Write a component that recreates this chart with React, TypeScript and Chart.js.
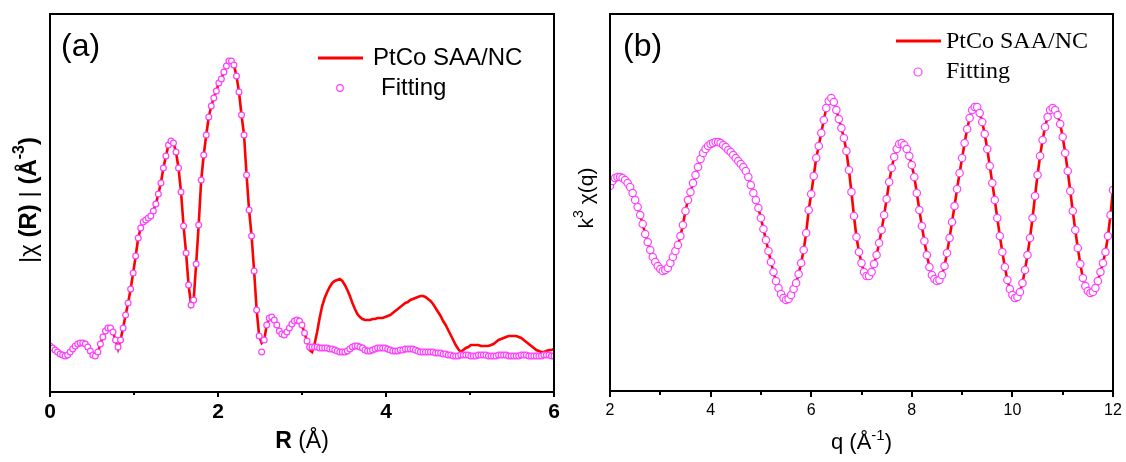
import React, { useEffect, useRef } from 'react';
import { Chart, registerables } from 'chart.js';

Chart.register(...registerables);

// ---------- Panel (a): |chi(R)|, R grid 0..6 step 0.03 ----------
const R_START = 0;
const R_STEP = 0.03;
const rMeasured = [
  46, 44, 42, 40, 38, 37, 36, 37, 40, 43,
  46, 48, 49, 49, 48, 45, 41, 37, 36, 40,
  48, 55, 61, 64, 64, 60, 52, 43, 52, 64,
  77, 89, 103, 119, 136, 154, 164, 170, 172, 174,
  176, 181, 188, 198, 209, 224, 236, 247, 251, 249,
  240, 224, 200, 166, 139, 107, 87, 92, 128, 167,
  212, 237, 257, 275, 286, 294, 301, 309, 313, 320,
  326, 331, 331, 327, 316, 300, 277, 257, 217, 182,
  156, 121, 82, 56, 49, 52, 67, 74, 75, 72,
  67, 61, 58, 57, 60, 64, 68, 71, 72, 71,
  67, 59, 51, 42, 40, 48, 60, 74, 86, 94,
  100, 105, 109, 111, 112, 113, 111, 107, 102, 96,
  89, 83, 78, 75, 73, 72, 72, 72, 73, 73,
  74, 74, 74, 75, 76, 77, 79, 81, 83, 85,
  87, 89, 90, 92, 93, 94, 95, 96, 96, 95,
  93, 91, 88, 84, 80, 76, 71, 67, 62, 57,
  52, 47, 43, 40, 42, 44, 45, 47, 47, 47,
  47, 46, 46, 46, 46, 47, 48, 50, 52, 53,
  54, 55, 56, 56, 56, 56, 55, 54, 52, 50,
  48, 46, 44, 42, 41, 40, 40, 41, 42, 42,
  43,
];
const rFitting = [
  46, 44, 42, 40, 38, 37, 36, 37, 40, 43,
  46, 48, 49, 49, 48, 45, 41, 37, 36, 40,
  48, 55, 61, 64, 64, 60, 52, 45, 52, 64,
  77, 89, 103, 119, 136, 154, 164, 170, 172, 174,
  176, 181, 188, 198, 209, 224, 236, 247, 251, 249,
  240, 224, 200, 166, 139, 107, 87, 92, 128, 167,
  212, 237, 257, 275, 286, 294, 301, 309, 313, 320,
  326, 331, 331, 327, 316, 300, 277, 257, 217, 182,
  156, 121, 82, 56, 40, 52, 67, 74, 75, 72,
  67, 61, 58, 57, 60, 64, 68, 71, 72, 71,
  67, 59, 51, 45, 45, 45, 45, 44, 44, 44,
  44, 43, 43, 42, 41, 40, 40, 40, 41, 43,
  45, 46, 46, 45, 44, 42, 41, 41, 42, 43,
  44, 44, 44, 44, 43, 42, 41, 41, 41, 42,
  42, 43, 43, 43, 43, 42, 41, 40, 40, 40,
  40, 40, 40, 39, 39, 39, 38, 38, 37, 37,
  36, 36, 36, 37, 37, 37, 37, 36, 36, 36,
  37, 37, 37, 37, 36, 36, 36, 36, 37, 37,
  37, 37, 36, 36, 36, 36, 36, 37, 37, 37,
  36, 36, 36, 36, 36, 36, 37, 37, 37, 36,
  36,
];
const rTickLabels = [0, 2, 4, 6];
const rMinorTicks = [1, 3, 5];

// ---------- Panel (b): k^3 chi(q), q grid 2..12 step 0.05 ----------
const Q_START = 2;
const Q_STEP = 0.05;
const qMeasured = [
  14, 19, 22, 23, 23, 22, 20, 17, 13, 7, 0, -7, -15, -24, -34, -42, -50, -57, -62, -66,
  -69, -71, -70, -68, -63, -57, -51, -45, -36, -25, -11, 0, 8, 17, 25, 33, 41, 47, 51, 54,
  56, 57, 58, 58, 57, 55, 53, 50, 48, 45, 42, 39, 36, 33, 29, 23, 15, 7, 0, -8,
  -18, -29, -40, -51, -62, -72, -81, -88, -94, -98, -100, -99, -95, -89, -83, -74, -63, -50, -33, -10,
  6, 24, 42, 54, 67, 80, 92, 99, 102, 98, 90, 81, 72, 62, 49, 30, 8, -16, -37, -52,
  -63, -72, -76, -76, -72, -64, -55, -43, -30, -15, 1, 18, 32, 43, 51, 56, 57, 55, 51, 44,
  35, 23, 7, -10, -26, -41, -55, -67, -75, -79, -81, -80, -75, -66, -53, -38, -22, -6, 11, 27,
  42, 57, 71, 82, 90, 93, 93, 87, 78, 66, 51, 34, 17, 0, -18, -36, -52, -67, -80, -89,
  -95, -98, -97, -92, -83, -70, -55, -38, -18, 4, 25, 44, 60, 73, 83, 90, 92, 90, 85, 76,
  63, 47, 29, 9, -11, -30, -48, -64, -78, -86, -91, -93, -92, -88, -81, -72, -63, -52, -36, -15,
  10,
];
// the fit lies on top of the measured curve everywhere in panel (b)
const qFitting = qMeasured;
const qTickLabels = [2, 4, 6, 8, 10, 12];
const qMinorTicks = [3, 5, 7, 9, 11];

const RED = '#ff0000';
const MAGENTA = '#ff40ff';
const SANS = '"Liberation Sans", Arial, sans-serif';
const SERIF = '"Liberation Serif", "Times New Roman", serif';

type Run = { t: string; font: string; dy?: number };

function drawRuns(ctx: CanvasRenderingContext2D, runs: Run[], cx: number, cy: number, rotate: boolean, baseline: CanvasTextBaseline) {
  ctx.save();
  ctx.translate(cx, cy);
  if (rotate) ctx.rotate(-Math.PI / 2);
  ctx.textBaseline = baseline;
  ctx.textAlign = 'left';
  ctx.fillStyle = '#000';
  let total = 0;
  for (const r of runs) {
    ctx.font = r.font;
    total += ctx.measureText(r.t).width;
  }
  let x = -total / 2;
  for (const r of runs) {
    ctx.font = r.font;
    ctx.fillText(r.t, x, r.dy || 0);
    x += ctx.measureText(r.t).width;
  }
  ctx.restore();
}

function toPoints(start: number, step: number, vals: number[]) {
  return vals.map((v, i) => ({ x: +(start + i * step).toFixed(4), y: v }));
}

type Decor = {
  majors: number[];
  minors: number[];
  majorLen: number;
  minorLen: number;
  panel: { t: string; x: number; y: number };
  legend: {
    lineX0: number; lineX1: number; lineY: number;
    textX: number; text2X: number; text1Y: number; text2Y: number;
    circX: number; circY: number; circR: number;
    font: string;
  };
  xTitle: { runs: Run[]; y: number };
  yTitle: { runs: Run[]; x: number; y: number };
};

function makeDecorPlugin(d: Decor) {
  return {
    id: 'decor',
    afterDraw(chart: any) {
      const ctx: CanvasRenderingContext2D = chart.ctx;
      const a = chart.chartArea;
      const xs = chart.scales.x;
      ctx.save();
      // frame
      ctx.strokeStyle = '#000';
      ctx.lineWidth = 2;
      ctx.strokeRect(a.left, a.top, a.right - a.left, a.bottom - a.top);
      // tick marks (major and minor, outward)
      const tick = (v: number, len: number) => {
        const px = Math.round(xs.getPixelForValue(v));
        ctx.beginPath();
        ctx.moveTo(px, a.bottom);
        ctx.lineTo(px, a.bottom + len);
        ctx.stroke();
      };
      d.majors.forEach((v) => tick(v, d.majorLen));
      d.minors.forEach((v) => tick(v, d.minorLen));
      // panel label
      ctx.fillStyle = '#000';
      ctx.font = `32px ${SANS}`;
      ctx.textAlign = 'left';
      ctx.textBaseline = 'alphabetic';
      ctx.fillText(d.panel.t, d.panel.x, d.panel.y);
      // legend
      const L = d.legend;
      ctx.strokeStyle = RED;
      ctx.lineWidth = 3;
      ctx.beginPath();
      ctx.moveTo(L.lineX0, L.lineY);
      ctx.lineTo(L.lineX1, L.lineY);
      ctx.stroke();
      ctx.strokeStyle = MAGENTA;
      ctx.fillStyle = '#fff';
      ctx.lineWidth = 1.2;
      ctx.beginPath();
      ctx.arc(L.circX, L.circY, L.circR, 0, Math.PI * 2);
      ctx.fill();
      ctx.stroke();
      ctx.fillStyle = '#000';
      ctx.font = L.font;
      ctx.fillText('PtCo SAA/NC', L.textX, L.text1Y);
      ctx.fillText('Fitting', L.text2X, L.text2Y);
      ctx.restore();
      // axis titles
      drawRuns(ctx, d.xTitle.runs, (a.left + a.right) / 2, d.xTitle.y, false, 'alphabetic');
      drawRuns(ctx, d.yTitle.runs, d.yTitle.x, d.yTitle.y, true, 'middle');
    },
  };
}

function buildConfig(opts: {
  measured: { x: number; y: number }[];
  fitting: { x: number; y: number }[];
  xMin: number; xMax: number; yMin: number; yMax: number;
  tickValues: number[];
  tickFont: any;
  padding: { left: number; right: number; top: number; bottom: number };
  pointRadius: number;
  lineWidth: number;
  decor: Decor;
}) {
  return {
    type: 'scatter' as const,
    data: {
      datasets: [
        {
          label: 'Fitting',
          data: opts.fitting,
          showLine: false,
          pointRadius: opts.pointRadius,
          pointBorderWidth: 1.2,
          pointBorderColor: MAGENTA,
          pointBackgroundColor: '#ffffff',
          order: 0,
        },
        {
          label: 'PtCo SAA/NC',
          data: opts.measured,
          showLine: true,
          borderColor: RED,
          borderWidth: opts.lineWidth,
          pointRadius: 0,
          tension: 0,
          order: 1,
        },
      ],
    },
    options: {
      animation: false,
      responsive: false,
      events: [],
      layout: { padding: opts.padding },
      plugins: { legend: { display: false }, tooltip: { enabled: false } },
      scales: {
        x: {
          type: 'linear',
          min: opts.xMin,
          max: opts.xMax,
          afterBuildTicks: (s: any) => {
            s.ticks = opts.tickValues.map((v) => ({ value: v }));
          },
          afterFit: (s: any) => {
            s.height = 50;
          },
          ticks: {
            font: opts.tickFont,
            color: '#000',
            padding: 0,
            maxRotation: 0,
            autoSkip: false,
            callback: (v: any) => String(v),
          },
          grid: { display: false, drawTicks: false },
          border: { display: false },
        },
        y: {
          type: 'linear',
          min: opts.yMin,
          max: opts.yMax,
          display: false,
        },
      },
    },
    plugins: [makeDecorPlugin(opts.decor)],
  };
}

export default function App() {
  const refA = useRef<HTMLCanvasElement>(null);
  const refB = useRef<HTMLCanvasElement>(null);

  useEffect(() => {
    const W = 1126;
    const H = 462;
    const chartA = new Chart(
      refA.current as HTMLCanvasElement,
      buildConfig({
        measured: toPoints(R_START, R_STEP, rMeasured),
        fitting: toPoints(R_START, R_STEP, rFitting),
        xMin: 0, xMax: 6, yMin: 0, yMax: 378,
        tickValues: rTickLabels,
        tickFont: { family: SANS, size: 21, weight: 'bold', lineHeight: '41px' },
        padding: { left: 50, right: W - 554, top: 14, bottom: H - 392 - 50 },
        pointRadius: 2.9,
        lineWidth: 2.6,
        decor: {
          majors: rTickLabels,
          minors: rMinorTicks,
          majorLen: 5,
          minorLen: 3,
          panel: { t: '(a)', x: 61, y: 56 },
          legend: {
            lineX0: 318, lineX1: 363, lineY: 58,
            textX: 373, text2X: 381, text1Y: 65, text2Y: 95,
            circX: 340, circY: 88, circR: 3.3,
            font: `24px ${SANS}`,
          },
          xTitle: {
            runs: [
              { t: 'R', font: `bold 23px ${SANS}` },
              { t: ' (Å)', font: `23px ${SANS}` },
            ],
            y: 448,
          },
          yTitle: {
            runs: [
              { t: '|χ ', font: `24px ${SANS}` },
              { t: '(R)', font: `bold 24px ${SANS}` },
              { t: ' | ', font: `24px ${SANS}` },
              { t: '(Å', font: `bold 24px ${SANS}` },
              { t: '-3', font: `bold 16px ${SANS}`, dy: -9 },
              { t: ')', font: `bold 24px ${SANS}` },
            ],
            x: 29,
            y: 200,
          },
        },
      }) as any
    );
    const chartB = new Chart(
      refB.current as HTMLCanvasElement,
      buildConfig({
        measured: toPoints(Q_START, Q_STEP, qMeasured),
        fitting: toPoints(Q_START, Q_STEP, qFitting),
        xMin: 2, xMax: 12, yMin: -191, yMax: 186,
        tickValues: qTickLabels,
        tickFont: { family: SANS, size: 16, weight: 'normal', lineHeight: '39px' },
        padding: { left: 610, right: W - 1113, top: 14, bottom: H - 391 - 50 },
        pointRadius: 3.7,
        lineWidth: 2.6,
        decor: {
          majors: qTickLabels,
          minors: qMinorTicks,
          majorLen: 6,
          minorLen: 4,
          panel: { t: '(b)', x: 623, y: 56 },
          legend: {
            lineX0: 896, lineX1: 941, lineY: 41,
            textX: 946, text2X: 946, text1Y: 48, text2Y: 78,
            circX: 918, circY: 72, circR: 4,
            font: `24px ${SERIF}`,
          },
          xTitle: {
            runs: [
              { t: 'q (Å', font: `22px ${SANS}` },
              { t: '-1', font: `15px ${SANS}`, dy: -9 },
              { t: ')', font: `22px ${SANS}` },
            ],
            y: 449,
          },
          yTitle: {
            runs: [
              { t: 'k', font: `21px ${SANS}` },
              { t: '3', font: `14px ${SANS}`, dy: -8 },
              { t: ' χ(q)', font: `21px ${SANS}` },
            ],
            x: 587,
            y: 198,
          },
        },
      }) as any
    );
    return () => {
      chartA.destroy();
      chartB.destroy();
    };
  }, []);

  const canvasStyle: React.CSSProperties = {
    position: 'absolute',
    left: 0,
    top: 0,
    width: 1126,
    height: 462,
    display: 'block',
  };

  return (
    <div style={{ position: 'fixed', left: 0, top: 0, width: 1126, height: 462, background: '#fff' }}>
      <canvas ref={refA} width={1126} height={462} style={canvasStyle} />
      <canvas ref={refB} width={1126} height={462} style={canvasStyle} />
    </div>
  );
}
